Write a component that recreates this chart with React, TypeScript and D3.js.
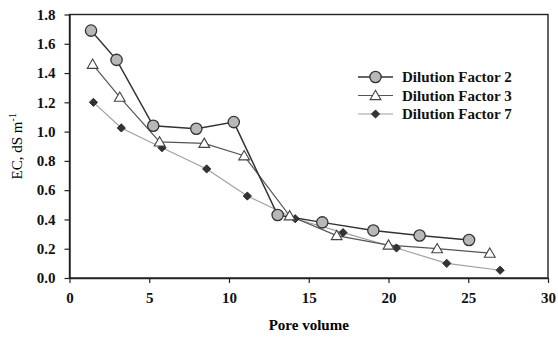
import React, { useRef, useEffect } from 'react';
import * as d3 from 'd3';

// Dilution Factor 2 (circles)
const df2X = [1.35, 2.95, 5.25, 7.95, 10.3, 13.05, 15.85, 19.05, 21.95, 25.05];
const df2Y = [1.69, 1.49, 1.04, 1.02, 1.065, 0.43, 0.38, 0.325, 0.29, 0.26];
// Dilution Factor 3 (triangles)
const df3X = [1.45, 3.15, 5.65, 8.45, 10.95, 13.8, 16.75, 20.0, 23.05, 26.35];
const df3Y = [1.46, 1.235, 0.93, 0.92, 0.835, 0.425, 0.29, 0.225, 0.2, 0.17];
// Dilution Factor 7 (diamonds)
const df7X = [1.5, 3.25, 5.8, 8.6, 11.15, 14.15, 17.15, 20.5, 23.65, 27.0];
const df7Y = [1.2, 1.025, 0.89, 0.745, 0.56, 0.405, 0.31, 0.205, 0.1, 0.053];

const xTicks = [0, 5, 10, 15, 20, 25, 30];
const yTicks = [0, 0.2, 0.4, 0.6, 0.8, 1.0, 1.2, 1.4, 1.6, 1.8];
const seriesNames = ['Dilution Factor 2', 'Dilution Factor 3', 'Dilution Factor 7'];

const App = () => {
  const svgRef = useRef<SVGSVGElement>(null);

  useEffect(() => {
    const svg = d3.select(svgRef.current);
    svg.selectAll('*').remove();

    const left = 69.5, right = 548, top = 14.5, bottom = 278;
    const x = d3.scaleLinear().domain([0, 30]).range([left, right]);
    const y = d3.scaleLinear().domain([0, 1.8]).range([bottom, top]);
    const font = '"Liberation Serif", "Times New Roman", serif';

    // frame
    svg.append('rect')
      .attr('x', left).attr('y', top)
      .attr('width', right - left).attr('height', bottom - top)
      .attr('fill', 'none').attr('stroke', '#222').attr('stroke-width', 1.4);

    // x axis
    const xAxis = svg.append('g')
      .attr('transform', `translate(0,${bottom})`)
      .call(d3.axisBottom(x).tickValues(xTicks).tickSize(5).tickSizeOuter(0).tickPadding(9).tickFormat(d3.format('d')));
    xAxis.select('.domain').attr('stroke', '#222').attr('stroke-width', 1.4);
    xAxis.selectAll('line').attr('stroke', '#222').attr('stroke-width', 1.2);
    xAxis.selectAll('text').attr('font-family', font).attr('font-weight', 'bold').attr('font-size', 15).attr('fill', '#111');

    // y axis
    const yAxis = svg.append('g')
      .attr('transform', `translate(${left},0)`)
      .call(d3.axisLeft(y).tickValues(yTicks).tickSize(5).tickSizeOuter(0).tickPadding(9).tickFormat(d3.format('.1f')));
    yAxis.select('.domain').attr('stroke', '#222').attr('stroke-width', 1.4);
    yAxis.selectAll('line').attr('stroke', '#222').attr('stroke-width', 1.2);
    yAxis.selectAll('text').attr('font-family', font).attr('font-weight', 'bold').attr('font-size', 15).attr('fill', '#111');

    // axis titles
    svg.append('text')
      .attr('x', (left + right) / 2).attr('y', 330)
      .attr('text-anchor', 'middle')
      .attr('font-family', font).attr('font-weight', 'bold').attr('font-size', 15)
      .text('Pore volume');

    const yl = svg.append('text')
      .attr('transform', `translate(22,${(top + bottom) / 2}) rotate(-90)`)
      .attr('text-anchor', 'middle')
      .attr('font-family', font).attr('font-size', 15);
    yl.append('tspan').text('EC, dS m');
    yl.append('tspan').attr('dy', -6).attr('font-size', 10).text('-1');

    const line = d3.line<[number, number]>().x(d => x(d[0])).y(d => y(d[1]));
    const pts = (xs: number[], ys: number[]) => xs.map((v, i) => [v, ys[i]] as [number, number]);

    const series = [
      { data: pts(df7X, df7Y), stroke: '#a0a0a0', width: 1.2 },
      { data: pts(df3X, df3Y), stroke: '#555', width: 1.2 },
      { data: pts(df2X, df2Y), stroke: '#333', width: 1.5 },
    ];
    series.forEach(s => {
      svg.append('path').datum(s.data).attr('d', line)
        .attr('fill', 'none').attr('stroke', s.stroke).attr('stroke-width', s.width);
    });

    const circle = d3.symbol().type(d3.symbolCircle).size(100);
    const tri = d3.symbol().type(d3.symbolTriangle).size(50);
    const diamond = d3.symbol().type(d3.symbolSquare).size(34);

    const drawMarker = (g: any, kind: number, cx: number, cy: number) => {
      if (kind === 0) {
        g.append('path').attr('d', circle()).attr('transform', `translate(${cx},${cy})`)
          .attr('fill', '#b8b8b8').attr('stroke', '#333').attr('stroke-width', 1.3);
      } else if (kind === 1) {
        g.append('path').attr('d', tri()).attr('transform', `translate(${cx},${cy + 1})`)
          .attr('fill', '#fff').attr('stroke', '#444').attr('stroke-width', 1.1);
      } else {
        g.append('path').attr('d', diamond()).attr('transform', `translate(${cx},${cy}) rotate(45)`)
          .attr('fill', '#333').attr('stroke', '#222').attr('stroke-width', 0.8);
      }
    };

    pts(df7X, df7Y).forEach(d => drawMarker(svg, 2, x(d[0]), y(d[1])));
    pts(df3X, df3Y).forEach(d => drawMarker(svg, 1, x(d[0]), y(d[1])));
    pts(df2X, df2Y).forEach(d => drawMarker(svg, 0, x(d[0]), y(d[1])));

    // legend
    const lg = svg.append('g');
    const legStroke = ['#333', '#555', '#a0a0a0'];
    seriesNames.forEach((name, i) => {
      const ly = 77 + i * 18.5;
      lg.append('line').attr('x1', 358).attr('x2', 393).attr('y1', ly).attr('y2', ly)
        .attr('stroke', legStroke[i]).attr('stroke-width', i === 0 ? 1.5 : 1.2);
      drawMarker(lg, i, 375.5, ly);
      lg.append('text').attr('x', 402).attr('y', ly + 5)
        .attr('font-family', font).attr('font-weight', 'bold').attr('font-size', 15)
        .attr('fill', '#111')
        .text(name);
    });
  }, []);

  return (
    <svg ref={svgRef} width={558} height={337}
      style={{ position: 'absolute', left: 0, top: 0, background: '#fff' }} />
  );
};

export default App;
